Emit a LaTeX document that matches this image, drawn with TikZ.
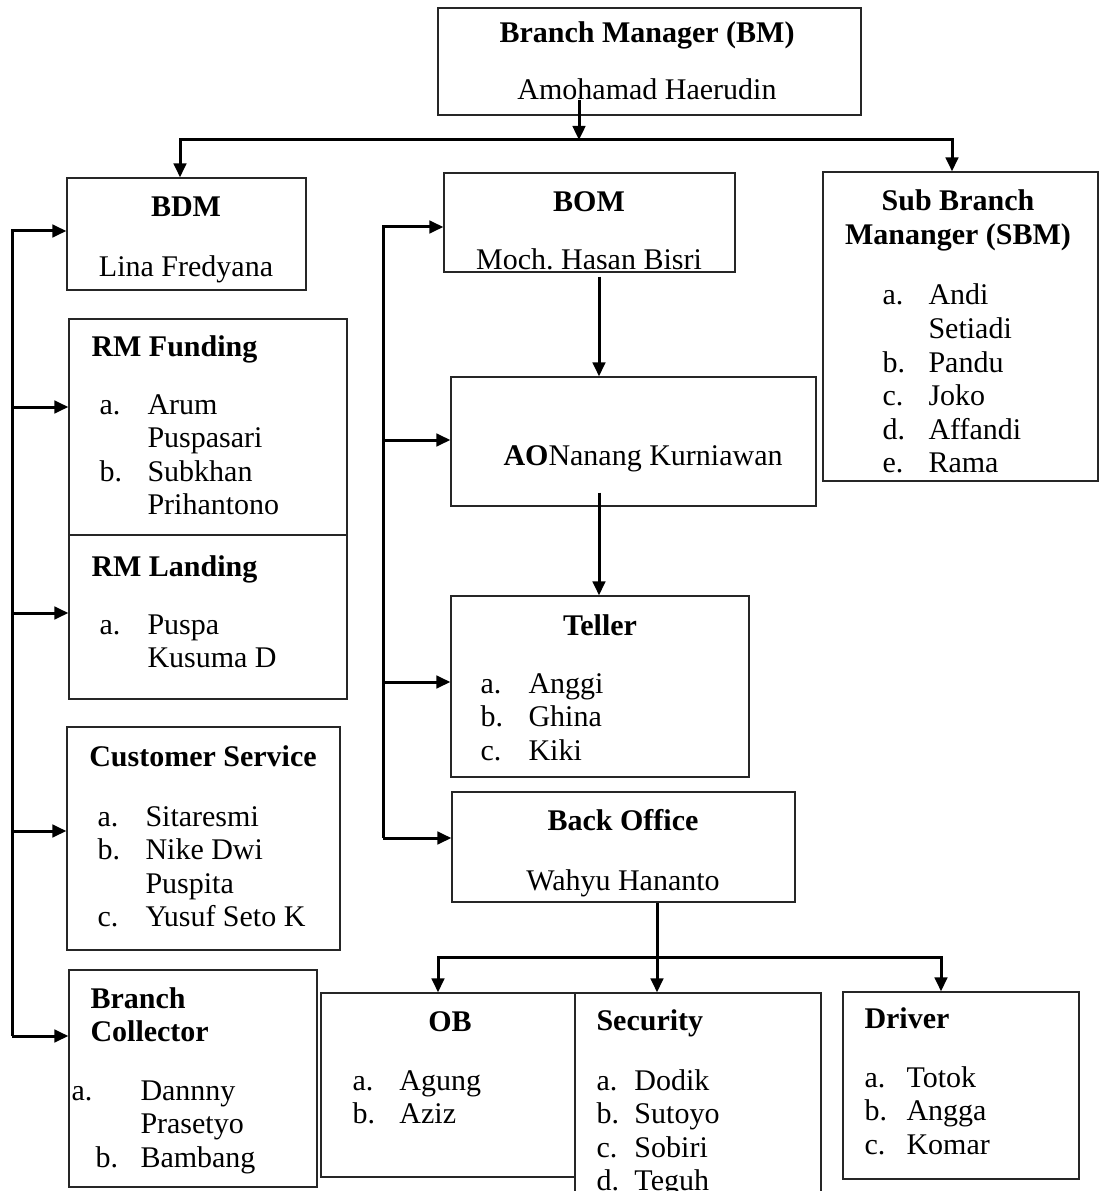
\documentclass[tikz,border=0pt]{standalone}
\usepackage{fontspec}
\setmainfont{Liberation Serif}
\usetikzlibrary{arrows.meta,fit}

\begin{document}
\begin{tikzpicture}[x=0.4pt,y=-0.4pt,
    font=\fontsize{12pt}{13.4pt}\selectfont,
    unit/.style={draw=black!85,line width=0.5pt,inner sep=0pt},
    head/.style={font=\fontsize{12pt}{13.4pt}\selectfont\bfseries,inner sep=0pt,anchor=base},
    lefthead/.style={head,anchor=base west},
    person/.style={inner sep=0pt,anchor=base},
    roster/.style={inner sep=0pt,anchor=base west},
    wire/.style={line width=1.2pt},
    link/.style={wire,-{Triangle[length=5.6pt,width=5pt]}}]
  \clip (0,0) rectangle (1099,1191);

  % top
  \node[unit,fit={(438,8) (861,115)}] (bm) {};
  \node[head] (bmHead) at (647,43) {Branch Manager (BM)};
  \node[person] (bmName) at (647,100) {Amohamad Haerudin};

  % left column
  \node[unit,fit={(67,178) (306,290)}] (bdm) {};
  \node[head] (bdmHead) at (186,217) {BDM};
  \node[person] (bdmName) at (186,277) {Lina Fredyana};

  \node[unit,fit={(69,319) (347,535)}] (rmf) {};
  \node[lefthead] (rmfHead) at (91,357) {RM Funding};
  \node[roster] (rmfList) at (99,414) {\begin{tabular}[t]{@{}p{19.2pt}@{}l@{}}
    a.&Arum\\&Puspasari\\b.&Subkhan\\&Prihantono\end{tabular}};

  \node[unit,fit={(69,535) (347,699)}] (rml) {};
  \node[lefthead] (rmlHead) at (91,576) {RM Landing};
  \node[roster] (rmlList) at (99,634) {\begin{tabular}[t]{@{}p{19.2pt}@{}l@{}}
    a.&Puspa\\&Kusuma D\end{tabular}};

  \node[unit,fit={(67,727) (340,950)}] (cs) {};
  \node[head] (csHead) at (203,766) {Customer Service};
  \node[roster] (csList) at (97,826) {\begin{tabular}[t]{@{}p{19.2pt}@{}l@{}}
    a.&Sitaresmi\\b.&Nike Dwi\\&Puspita\\c.&Yusuf Seto K\end{tabular}};

  \node[unit,fit={(69,970) (317,1187)}] (bc) {};
  \node[lefthead] (bcHead) at (90,1008) {\begin{tabular}[t]{@{}l@{}}Branch\\Collector\end{tabular}};
  \node[roster] (bcList) at (71,1100) {\begin{tabular}[t]{@{}p{27.6pt}@{}l@{}}
    a.&Dannny\\&Prasetyo\\\hspace*{9.6pt}b.&Bambang\end{tabular}};

  % middle column
  \node[unit,fit={(444,173) (735,272)}] (bom) {};
  \node[head] (bomHead) at (589,212) {BOM};
  \node[person] (bomName) at (589,270) {Moch.\ Hasan Bisri};

  \node[unit,fit={(451,377) (816,506)}] (ao) {};
  \node[roster] (aoName) at (503,465) {\textbf{AO}Nanang Kurniawan};

  \node[unit,fit={(451,596) (749,777)}] (tel) {};
  \node[head] (telHead) at (600,635) {Teller};
  \node[roster] (telList) at (480,693) {\begin{tabular}[t]{@{}p{19.2pt}@{}l@{}}
    a.&Anggi\\b.&Ghina\\c.&Kiki\end{tabular}};

  \node[unit,fit={(452,792) (795,902)}] (bo) {};
  \node[head] (boHead) at (623,830) {Back Office};
  \node[person] (boName) at (623,890) {Wahyu Hananto};

  % right column
  \node[unit,fit={(823,172) (1098,481)}] (sbm) {};
  \node[head] (sbmHead) at (958,211) {\begin{tabular}[t]{@{}c@{}}Sub Branch\\Mananger (SBM)\end{tabular}};
  \node[roster] (sbmList) at (882,305) {\begin{tabular}[t]{@{}p{18.4pt}@{}l@{}}
    a.&Andi\\&Setiadi\\b.&Pandu\\c.&Joko\\d.&Affandi\\e.&Rama\end{tabular}};

  % bottom row
  \node[unit,fit={(321,993) (575,1177)}] (ob) {};
  \node[head] (obHead) at (450,1031) {OB};
  \node[roster] (obList) at (352,1090) {\begin{tabular}[t]{@{}p{18.8pt}@{}l@{}}
    a.&Agung\\b.&Aziz\end{tabular}};

  \node[unit,fit={(575,993) (821,1215)}] (sec) {};
  \node[lefthead] (secHead) at (596,1030) {Security};
  \node[roster] (secList) at (596,1090) {\begin{tabular}[t]{@{}p{15.2pt}@{}l@{}}
    a.&Dodik\\b.&Sutoyo\\c.&Sobiri\\d.&Teguh\end{tabular}};

  \node[unit,fit={(843,992) (1079,1179)}] (drv) {};
  \node[lefthead] (drvHead) at (864,1028) {Driver};
  \node[roster] (drvList) at (864,1087) {\begin{tabular}[t]{@{}p{16.8pt}@{}l@{}}
    a.&Totok\\b.&Angga\\c.&Komar\end{tabular}};

  % connectors
  \coordinate (split) at (579,140);
  \coordinate (topL) at (180,140);
  \coordinate (topR) at (952,140);
  \draw[link] (bmName.base -| split) -- (split);
  \draw[link] (split) -| (bdm.north -| topL);
  \draw[link] (split) -| (sbm.north -| topR);

  \coordinate (tapA) at (12,231);
  \coordinate (tapB) at (12,407);
  \coordinate (tapC) at (12,613);
  \coordinate (tapD) at (12,831);
  \coordinate (tapE) at (12,1036);
  \draw[link] (tapE) |- (tapA -| bdm.west);
  \draw[link] (tapB) -- (tapB -| rmf.west);
  \draw[link] (tapC) -- (tapC -| rml.west);
  \draw[link] (tapD) -- (tapD -| cs.west);
  \draw[link] (tapE) -- (tapE -| bc.west);

  \coordinate (tapM1) at (383,227);
  \coordinate (tapM2) at (383,440);
  \coordinate (tapM3) at (383,682);
  \coordinate (tapM4) at (383,838);
  \draw[link] (tapM4) |- (tapM1 -| bom.west);
  \draw[link] (tapM2) -- (tapM2 -| ao.west);
  \draw[link] (tapM3) -- (tapM3 -| tel.west);
  \draw[link] (tapM4) -- (tapM4 -| bo.west);

  \coordinate (midx) at (599,0);
  \draw[link] ([yshift=-1.6pt]bom.south -| midx) -- (ao.north -| midx);
  \draw[link] ([yshift=5.6pt]ao.south -| midx) -- (tel.north -| midx);

  \coordinate (boDrop) at (657,957);
  \coordinate (obL) at (438,957);
  \coordinate (obR) at (941,957);
  \draw[link] (bo.south -| boDrop) -- (sec.north -| boDrop);
  \draw[link] (boDrop) -| (ob.north -| obL);
  \draw[link] (boDrop) -| (drv.north -| obR);
\end{tikzpicture}
\end{document}
